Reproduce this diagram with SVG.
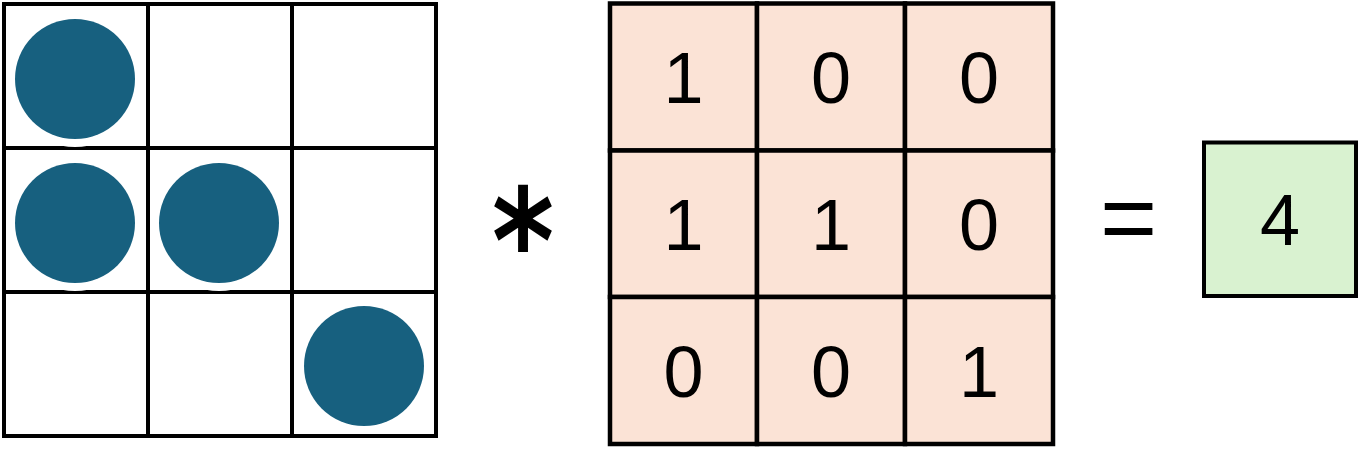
<svg xmlns="http://www.w3.org/2000/svg" width="1365" height="471" viewBox="0 0 1365 471">
  <style>
    .grid { fill: none; stroke: #000; stroke-width: 4; stroke-linecap: square; }
    .kcell { fill: #FBE3D6; stroke: #000; stroke-width: 4.5; }
    .res { fill: #D9F2D0; stroke: #000; stroke-width: 4; }
    .halo { fill: #fff; }
    .dot { fill: #17607F; }
    .num { font-family: "Liberation Sans", Arial, sans-serif; font-size: 72px; fill: #000; text-anchor: middle; }
    .op { font-family: "Liberation Sans", Arial, sans-serif; fill: #000; }
    .star { font-family: "DejaVu Sans", sans-serif; font-weight: bold; font-size: 144px; fill: #000; text-anchor: middle; }
  </style>

  <rect x="0" y="0" width="1365" height="471" fill="#fff"/>

  <!-- input grid 3x3 -->
  <g id="input-grid">
    <path class="grid" d="M4 4H436V436H4Z M148 4V436 M292 4V436 M4 148H436 M4 292H436"/>
    <!-- filled positions: (0,0) (1,0) (1,1) (2,2) -->
    <g id="dots">
      <circle class="halo" cx="75" cy="79" r="68"/>
      <circle class="halo" cx="75" cy="223" r="68"/>
      <circle class="halo" cx="219" cy="223" r="68"/>
      <circle class="halo" cx="364" cy="366" r="68"/>
      <circle class="dot" cx="75" cy="79" r="60"/>
      <circle class="dot" cx="75" cy="223" r="60"/>
      <circle class="dot" cx="219" cy="223" r="60"/>
      <circle class="dot" cx="364" cy="366" r="60"/>
    </g>
  </g>

  <!-- convolution operator -->
  <g id="op-conv">
    <text class="star" transform="translate(523,292) scale(0.83,1)" x="0" y="0">*</text>
  </g>

  <!-- kernel 3x3 -->
  <g id="kernel">
    <rect class="kcell" x="610" y="3.5" width="147" height="147"/>
    <rect class="kcell" x="757" y="3.5" width="148" height="147"/>
    <rect class="kcell" x="905" y="3.5" width="148" height="147"/>
    <rect class="kcell" x="610" y="150.5" width="147" height="146.5"/>
    <rect class="kcell" x="757" y="150.5" width="148" height="146.5"/>
    <rect class="kcell" x="905" y="150.5" width="148" height="146.5"/>
    <rect class="kcell" x="610" y="297" width="147" height="147"/>
    <rect class="kcell" x="757" y="297" width="148" height="147"/>
    <rect class="kcell" x="905" y="297" width="148" height="147"/>
    <text class="num" x="683.5" y="103">1</text>
    <text class="num" x="831" y="103">0</text>
    <text class="num" x="979" y="103">0</text>
    <text class="num" x="683.5" y="250">1</text>
    <text class="num" x="831" y="250">1</text>
    <text class="num" x="979" y="250">0</text>
    <text class="num" x="683.5" y="397">0</text>
    <text class="num" x="831" y="397">0</text>
    <text class="num" x="979" y="397">1</text>
  </g>

  <!-- equals -->
  <g id="op-eq">
    <text class="op" x="1100" y="252" font-size="98">=</text>
  </g>

  <!-- result -->
  <g id="result">
    <rect class="res" x="1204" y="142.5" width="152" height="153.5"/>
    <text class="num" x="1280" y="245">4</text>
  </g>
</svg>
